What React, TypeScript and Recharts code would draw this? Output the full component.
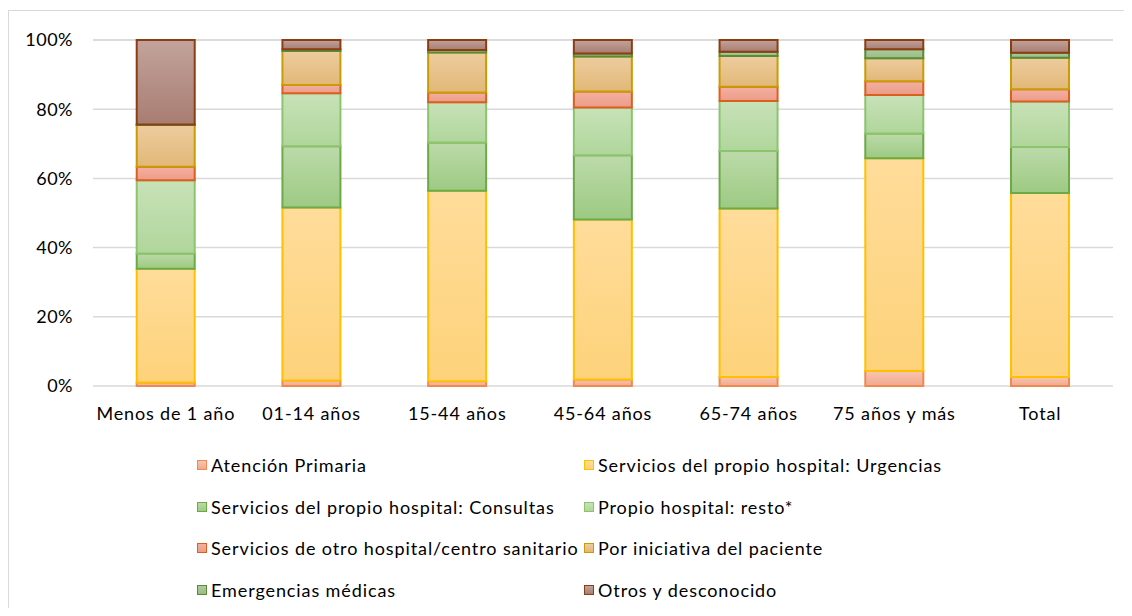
import React from 'react';
import { BarChart, Bar, XAxis, YAxis, CartesianGrid } from 'recharts';

const categories = ['Menos de 1 año', '01-14 años', '15-44 años', '45-64 años', '65-74 años', '75 años y más', 'Total'];

const atencionPrimaria = [1.0, 1.6, 1.4, 1.9, 2.6, 4.3, 2.6];
const urgencias = [32.9, 50.0, 55.0, 46.2, 48.7, 61.5, 53.2];
const consultas = [4.4, 17.7, 14.0, 18.6, 16.6, 7.2, 13.3];
const resto = [21.2, 15.3, 11.6, 13.8, 14.5, 11.1, 13.1];
const otroHospital = [3.9, 2.4, 2.8, 4.6, 4.1, 4.0, 3.6];
const iniciativa = [12.0, 9.8, 11.6, 10.1, 8.9, 6.6, 9.1];
const emergencias = [0.2, 0.5, 0.7, 0.9, 1.2, 2.6, 1.4];
const otros = [24.4, 2.7, 2.9, 3.9, 3.4, 2.7, 3.7];

const yTicks = [0, 20, 40, 60, 80, 100];

const series = [
  { key: 'ap', name: 'Atención Primaria', values: atencionPrimaria, top: '#F8C5B1', bottom: '#F2A88D', stroke: '#EE8A4F' },
  { key: 'urg', name: 'Servicios del propio hospital: Urgencias', values: urgencias, top: '#FFDC9A', bottom: '#FDD27A', stroke: '#FFC000' },
  { key: 'cons', name: 'Servicios del propio hospital: Consultas', values: consultas, top: '#BCDAA9', bottom: '#9DCA83', stroke: '#6BAA45' },
  { key: 'resto', name: 'Propio hospital: resto*', values: resto, top: '#C8E2B8', bottom: '#B0D69B', stroke: '#8CC46E' },
  { key: 'otro', name: 'Servicios de otro hospital/centro sanitario', values: otroHospital, top: '#F3B0A0', bottom: '#EC9C88', stroke: '#D9601E' },
  { key: 'inic', name: 'Por iniciativa del paciente', values: iniciativa, top: '#EDCC9E', bottom: '#E2B878', stroke: '#C99B05' },
  { key: 'emerg', name: 'Emergencias médicas', values: emergencias, top: '#AFCB9E', bottom: '#98BC84', stroke: '#5A8A3A' },
  { key: 'otros', name: 'Otros y desconocido', values: otros, top: '#C2A39C', bottom: '#A87D72', stroke: '#8A3E12' },
];

const data = categories.map((cat, i) => {
  const row: Record<string, string | number> = { cat };
  series.forEach((s) => { row[s.key] = s.values[i]; });
  return row;
});

const font = 'Lato, "Open Sans", sans-serif';

export default function App() {
  return (
    <div style={{ position: 'relative', width: 1116, height: 600, overflow: 'hidden', background: '#fff', fontFamily: font }}>
      <div style={{ position: 'absolute', left: 0, top: 2, width: 1200, height: 700, borderTop: '1px solid #D9D9D9', borderLeft: '1px solid #D9D9D9' }} />
      <div style={{ position: 'absolute', left: 0, top: 0 }}>
        <BarChart width={1116} height={430} data={data} margin={{ top: 32, right: 11, left: 0, bottom: 0 }} barCategoryGap="30%">
          <defs>
            {series.map((s) => (
              <linearGradient key={s.key} id={'g-' + s.key} x1="0" y1="0" x2="0" y2="1">
                <stop offset="0%" stopColor={s.top} />
                <stop offset="100%" stopColor={s.bottom} />
              </linearGradient>
            ))}
          </defs>
          <CartesianGrid vertical={false} stroke="#D9D9D9" strokeWidth={1.5} />
          <XAxis
            dataKey="cat"
            axisLine={false}
            tickLine={false}
            tickSize={0}
            tickMargin={21}
            height={52}
            interval={0}
            tick={{ fill: '#000', fontSize: 18, fontFamily: font, letterSpacing: 0.85 }}
          />
          <YAxis
            domain={[0, 100]}
            ticks={yTicks}
            axisLine={false}
            tickLine={false}
            tickSize={0}
            tickMargin={20}
            width={85}
            tickFormatter={(v) => v + '%'}
            tick={{ fill: '#000', fontSize: 18, fontFamily: font, letterSpacing: 0.5 }}
          />
          {series.map((s) => (
            <Bar
              key={s.key}
              dataKey={s.key}
              name={s.name}
              stackId="a"
              fill={'url(#g-' + s.key + ')'}
              stroke={s.stroke}
              strokeWidth={2}
              isAnimationActive={false}
            />
          ))}
        </BarChart>
      </div>
      {series.map((s, i) => {
        const col = i % 2;
        const row = Math.floor(i / 2);
        return (
          <div
            key={s.key}
            style={{
              position: 'absolute',
              left: col === 0 ? 189 : 576,
              top: 457 + row * 41.7 - 11,
              height: 22,
              display: 'flex',
              alignItems: 'center',
              whiteSpace: 'nowrap',
              fontSize: 18,
              letterSpacing: 0.9,
              color: '#000',
            }}
          >
            <span
              style={{
                display: 'inline-block',
                width: 8,
                height: 8,
                border: '1.5px solid ' + s.stroke,
                background: 'linear-gradient(' + s.top + ', ' + s.bottom + ')',
                marginRight: 4,
              }}
            />
            <span>{s.name}</span>
          </div>
        );
      })}
    </div>
  );
}
